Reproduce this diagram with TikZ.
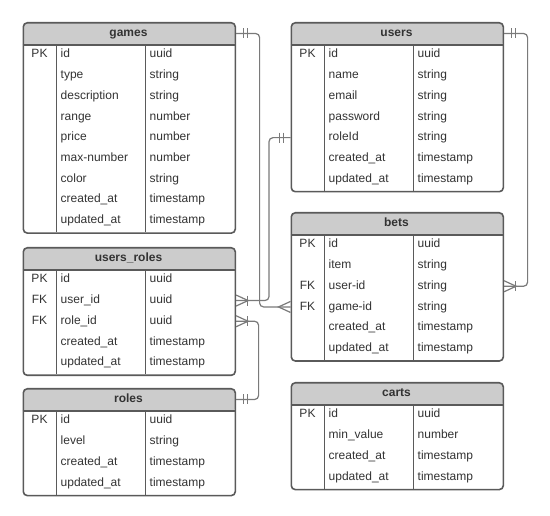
\documentclass[tikz,border=0pt]{standalone}
\usepackage{fontspec}
\setmainfont{Liberation Sans}
\usetikzlibrary{calc}
\definecolor{bordc}{HTML}{5A5A5A}
\definecolor{hdrc}{HTML}{CCCCCC}
\definecolor{linec}{HTML}{7A7A7A}
\definecolor{txtc}{HTML}{333333}
\tikzset{
 tbl/.style={draw=bordc, line width=1.6pt, rounded corners=4pt, minimum width=212pt, inner sep=0pt, anchor=north west,
   path picture={\fill[hdrc] (path picture bounding box.north west) rectangle ([yshift=-23pt]path picture bounding box.north east);}},
 sepline/.style={draw=bordc, line width=1.2pt},
 cell/.style={inner sep=0pt, text height=8.6pt, text depth=2.4pt, font=\fontsize{12}{14}\selectfont, text=txtc},
 ttl/.style={inner sep=0pt, text height=8.6pt, text depth=2.4pt, font=\fontsize{12}{14}\selectfont\bfseries, text=txtc},
 conn/.style={draw=linec, line width=1.2pt, rounded corners=4pt},
 mk/.style={draw=linec, line width=1.2pt},
}
\newcommand\ertable[6]{%
 \pgfmathsetmacro\tabh{24+#4*20.7}
 \node[tbl, minimum height=\tabh pt] (#1) at (#2,#3) {};
 \node[ttl] (#1-title) at (#2+106,#3+11.5) {#5};
 \draw[sepline] (#2,#3+23) -- (#2+212,#3+23);
 \draw[sepline] (#2+34,#3+23) -- (#2+34,#3+\tabh);
 \draw[sepline] (#2+123,#3+23) -- (#2+123,#3+\tabh);
 \foreach \kk/\nm/\ty [count=\i] in {#6} {
   \pgfmathsetmacro\yy{#3+23+(\i-0.5)*20.7-0.5}
   \coordinate (#1-r\i) at (#2,\yy);
   \node[cell] (#1-k\i) at (#2+17,\yy) {\kk};
   \node[cell, anchor=west] (#1-n\i) at (#2+38,\yy) {\nm};
   \node[cell, anchor=west] (#1-t\i) at (#2+127,\yy) {\ty};
 }
}
% one-and-only-one marks
\newcommand\oneR[1]{\draw[mk] ($(#1)+(7,-5)$) -- ($(#1)+(7,5)$) ($(#1)+(11,-5)$) -- ($(#1)+(11,5)$);}
\newcommand\oneL[1]{\draw[mk] ($(#1)+(-7,-5)$) -- ($(#1)+(-7,5)$) ($(#1)+(-11,-5)$) -- ($(#1)+(-11,5)$);}
% crow's feet
\newcommand\manyE[1]{\draw[mk] ($(#1)+(0,-5.5)$) -- ($(#1)+(12,0)$) -- ($(#1)+(0,5.5)$);}
\newcommand\manyW[1]{\draw[mk] ($(#1)+(0,-5.5)$) -- ($(#1)+(-12,0)$) -- ($(#1)+(0,5.5)$);}
\newcommand\barE[1]{\draw[mk] ($(#1)+(11.5,-5)$) -- ($(#1)+(11.5,5)$);}
\begin{document}
\begin{tikzpicture}[x=1pt,y=-1pt]
\useasboundingbox[fill=white] (0,0) rectangle (550,516);

\ertable{games}{22.5}{22}{9}{games}{PK/id/uuid, /type/string, /description/string, /range/number, /price/number, /max-number/number, /color/string, /created\_at/timestamp, /updated\_at/timestamp}
\ertable{users}{290.5}{22}{7}{users}{PK/id/uuid, /name/string, /email/string, /password/string, /roleId/string, /created\_at/timestamp, /updated\_at/timestamp}
\ertable{bets}{290.5}{212}{6}{bets}{PK/id/uuid, /item/string, FK/user-id/string, FK/game-id/string, /created\_at/timestamp, /updated\_at/timestamp}
\ertable{ur}{22.5}{247}{5}{users\_roles}{PK/id/uuid, FK/user\_id/uuid, FK/role\_id/uuid, /created\_at/timestamp, /updated\_at/timestamp}
\ertable{roles}{22.5}{388}{4}{roles}{PK/id/uuid, /level/string, /created\_at/timestamp, /updated\_at/timestamp}
\ertable{carts}{290.5}{382}{4}{carts}{PK/id/uuid, /min\_value/number, /created\_at/timestamp, /updated\_at/timestamp}

% connection points
\coordinate (gS) at (games.east |- games-title);
\coordinate (bG) at (bets.west |- bets-r4);
\coordinate (uS) at (users.west |- users-r5);
\coordinate (urU) at (ur.east |- ur-r2);
\coordinate (uE) at (users.east |- users-title);
\coordinate (bU) at (bets.east |- bets-r3);
\coordinate (rS) at (roles.east |- roles-title);
\coordinate (urR) at (ur.east |- ur-r3);

% games -- bets
\draw[conn] (gS) -- ++(23.5,0) |- (bG);
\oneR{gS} \manyW{bG}
% users -- users_roles
\draw[conn] (uS) -- ++(-21.5,0) |- (urU);
\oneL{uS} \manyE{urU} \barE{urU}
% users -- bets
\draw[conn] (uE) -- ++(23.5,0) |- (bU);
\oneR{uE} \manyE{bU} \barE{bU}
% roles -- users_roles
\draw[conn] (rS) -- ++(22.5,0) |- (urR);
\oneR{rS} \manyE{urR} \barE{urR}
\end{tikzpicture}
\end{document}
